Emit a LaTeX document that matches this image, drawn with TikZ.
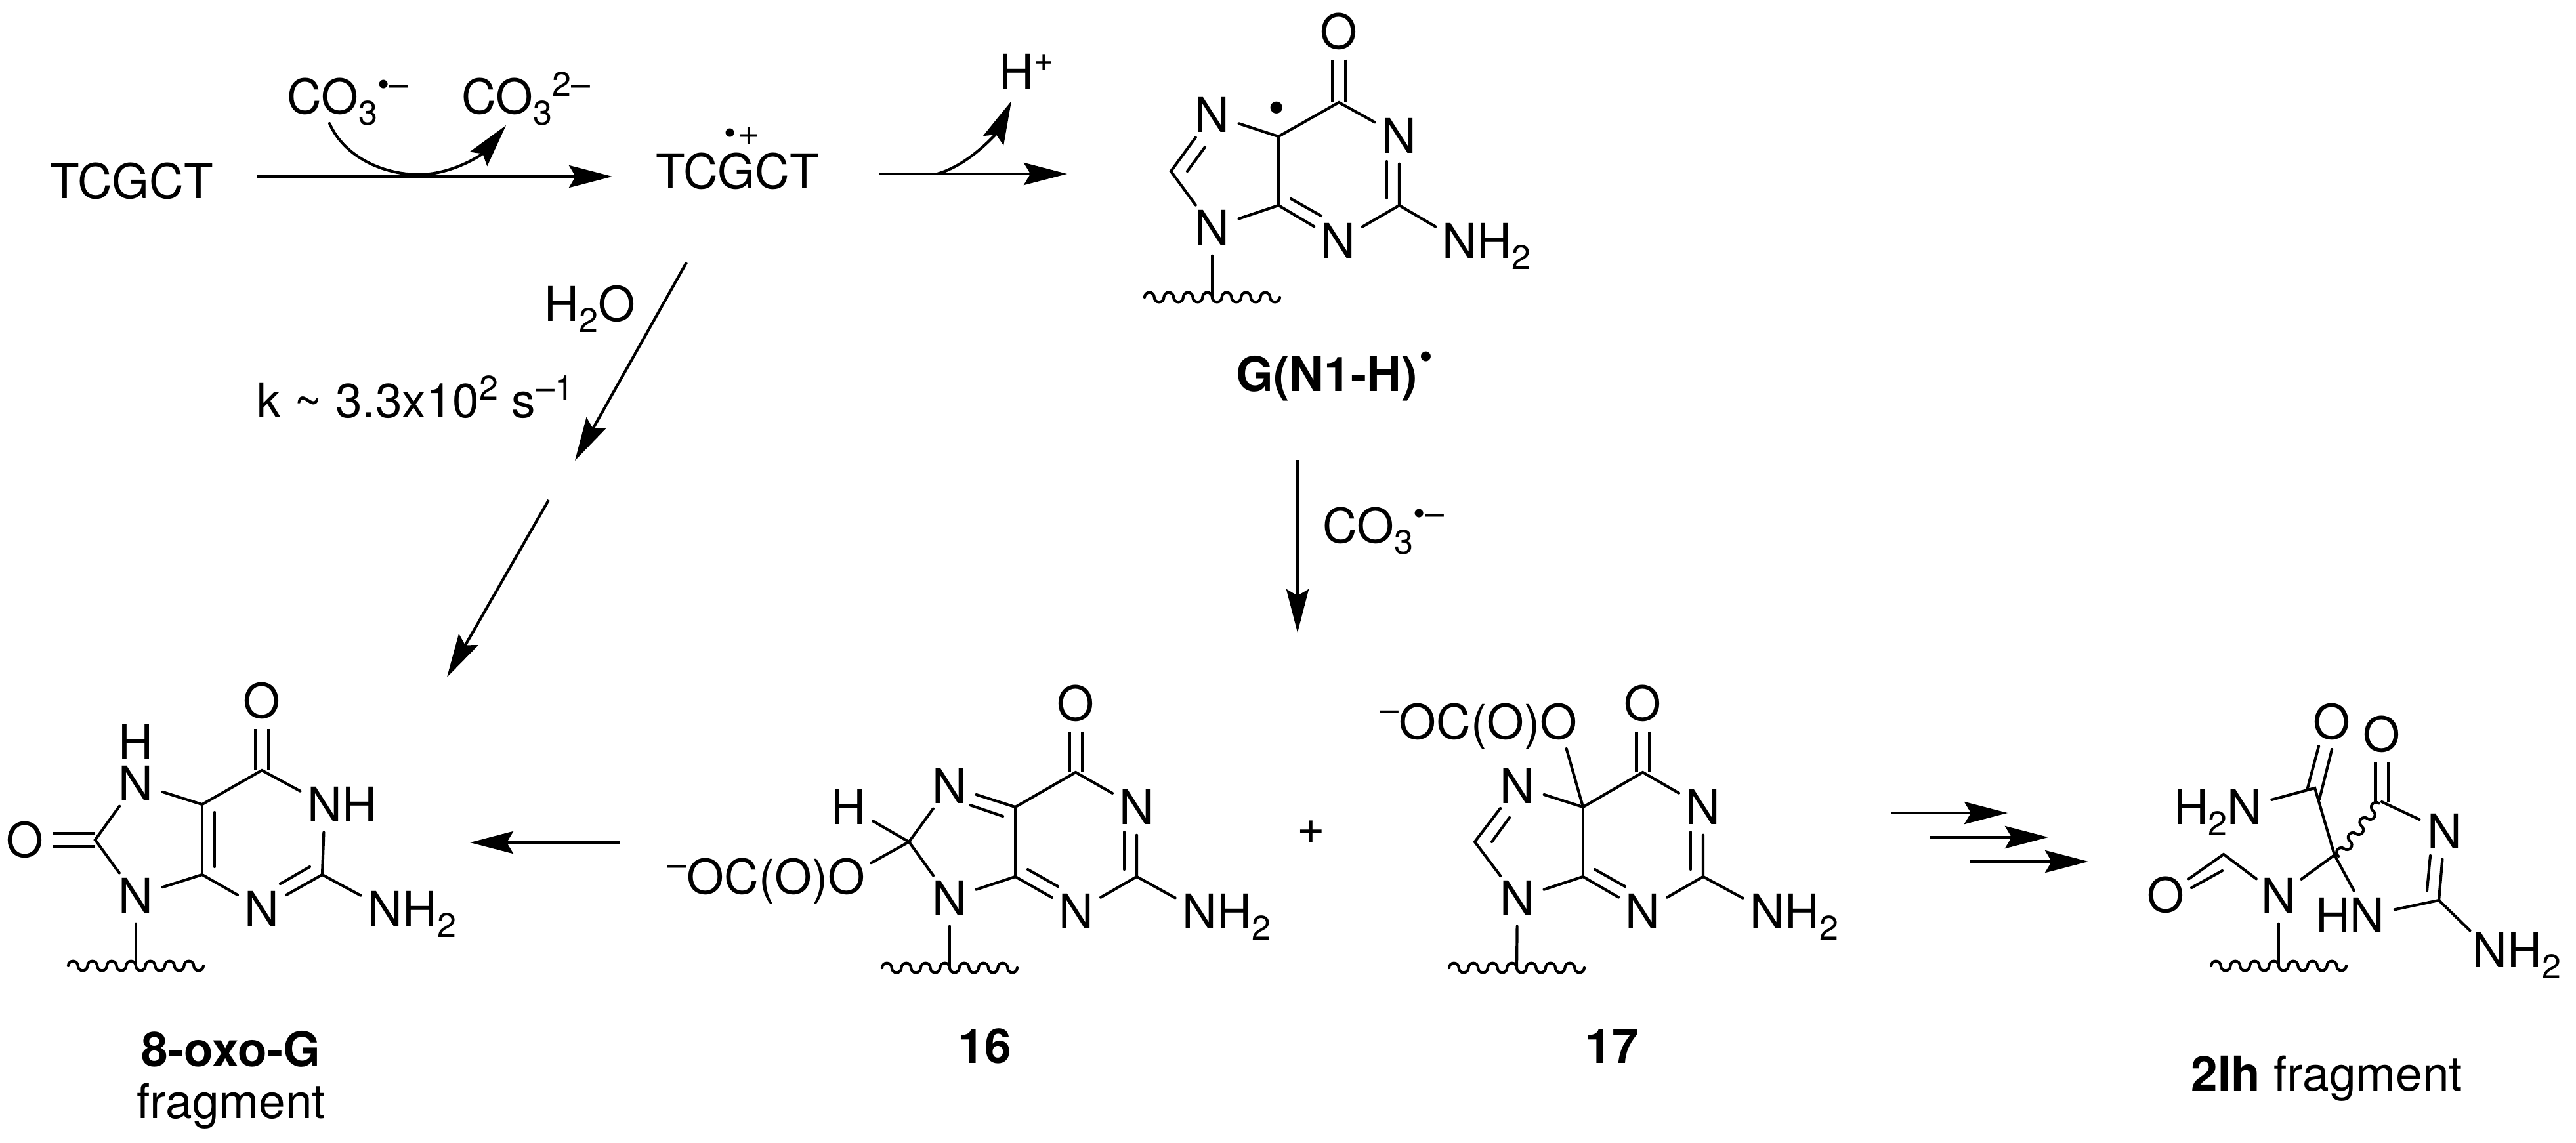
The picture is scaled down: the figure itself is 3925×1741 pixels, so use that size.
\documentclass[tikz,border=0pt]{standalone}
\usepackage{fontspec}
\setmainfont{TeX Gyre Heros}
\usetikzlibrary{arrows.meta,calc}
\newcommand\subt[1]{\raisebox{-.233em}{\fontsize{14.8}{16}\selectfont #1}}
\newcommand\supt[1]{\raisebox{.37em}{\fontsize{14.8}{16}\selectfont #1}}
\newcommand\innerb[3]{\coordinate (#1a) at (#2);\coordinate (#1b) at (#3);\draw[bond] (#1a) -- (#1b);}
\newcommand\tailw[1]{\draw[bond] ($(#1)+(-103,0)$) \foreach \wi in {1,...,7}{ arc[start angle=180,end angle=0,radius=.0735cm] arc[start angle=180,end angle=360,radius=.0735cm]};}
\tikzset{
  every node/.style={font=\fontsize{20.75}{24}\selectfont},
  lbl/.style={inner sep=0pt,anchor=base west},
  lblc/.style={inner sep=0pt,anchor=base},
  atom/.style={circle,minimum size=.84cm,inner sep=0pt},
  bond/.style={line width=.042cm,line cap=round},
  dbl/.style={line width=.042cm,line cap=butt,double,double distance=.15cm},
  arr/.style={line width=.042cm,line cap=butt,-{Stealth[length=.66cm,width=.34cm,inset=.1cm]}},
}
\begin{document}
\begin{tikzpicture}[x=.01cm,y=-.01cm]
\path[use as bounding box,fill=white] (0,0) rectangle (3925,1741);

% top row text
\node[lbl] (tcgct) at (76,302) {TCGCT};
\node[lbl] (cothree) at (437,173) {CO\subt{3}\supt{•}\supt{–}};
\node[lbl] (cothreeb) at (703,173) {CO\subt{3}\supt{2–}};
\node[lbl] (tcgctr) at (999,287) {TCGCT};
\node[inner sep=0pt,font=\fontsize{14.8}{16}\selectfont] (rdot) at (1113,208) {•};
\node[inner sep=0pt,font=\fontsize{16.5}{18}\selectfont] (rplus) at (1141,208) {+};
\node[lbl] (hplus) at (1522,135) {H\supt{+}};
\node[lbl] (water) at (829,489) {H\subt{2}O};
\node[lbl] (rate) at (391,636) {k \textasciitilde{} 3.3x10\supt{2} s\supt{–1}};
\node[lbl] (cothreec) at (2015,827) {CO\subt{3}\supt{•}\supt{–}};
\node[lbl] (plusm) at (1976,1285) {+};

% arrows
\coordinate (a1s) at (391,269); \coordinate (a1e) at (933,269);
\draw[arr] (a1s) -- (a1e);
\coordinate (c1s) at (502,188); \coordinate (c1m) at (638,266); \coordinate (c1e) at (771,191);
\draw[bond] (c1s) .. controls (525,240) and (585,266) .. (c1m);
\draw[arr] (c1m) .. controls (690,266) and (735,235) .. (c1e);
\coordinate (a2s) at (1340,265); \coordinate (a2e) at (1626,265);
\draw[arr] (a2s) -- (a2e);
\coordinate (c2s) at (1428,265); \coordinate (c2e) at (1541,154);
\draw[arr] (c2s) .. controls (1480,250) and (1520,200) .. (c2e);
\coordinate (a3s) at (1046,400); \coordinate (a3e) at (876,702);
\draw[arr] (a3s) -- (a3e);
\coordinate (a4s) at (836,762); \coordinate (a4e) at (681,1032);
\draw[arr] (a4s) -- (a4e);
\coordinate (a5s) at (1977,701); \coordinate (a5e) at (1977,964);
\draw[arr] (a5s) -- (a5e);
\coordinate (a6s) at (944,1284); \coordinate (a6e) at (716,1284);
\draw[arr] (a6s) -- (a6e);
\coordinate (a7s) at (2881,1239); \coordinate (a7e) at (3059,1239);
\draw[arr] (a7s) -- (a7e);
\coordinate (a8s) at (2941,1276); \coordinate (a8e) at (3121,1276);
\draw[arr] (a8s) -- (a8e);
\coordinate (a9s) at (3002,1313); \coordinate (a9e) at (3182,1313);
\draw[arr] (a9s) -- (a9e);

% G(N1-H) radical
\node[atom] (gO) at (2040,48) {O};
\node[atom] (gN7) at (1847,175) {N};
\node[atom] (gN1) at (2132,207) {N};
\node[atom] (gN3) at (2039,367) {N};
\node[atom] (gN9) at (1847,347) {N};
\node[atom] (gNH) at (2224,367) {N\smash{\rlap{H\subt{2}}}};
\node[inner sep=0pt] (gdot) at (1945,172) {•};
\coordinate (gC6) at (2040,156); \coordinate (gC5) at (1948,208);
\coordinate (gC2) at (2132,313); \coordinate (gC4) at (1948,313);
\coordinate (gC8) at (1784,261); \coordinate (gT) at (1847,453);
\draw[dbl] (gO) -- (gC6);
\draw[bond] (gN7) -- (gC5) -- (gC6) -- (gN1);
\draw[bond] (gN1) -- (gC2) -- (gNH);
\draw[bond] (gC2) -- (gN3);
\draw[bond] (gN3) -- (gC4) -- (gN9);
\draw[bond] (gC5) -- (gC4);
\draw[bond] (gN9) -- (gC8) -- (gN7);
\draw[bond] (gN9) -- (gT);
\tailw{gT}
\innerb{gi1}{2113,246}{2113,302}
\innerb{gi2}{1967,303}{2013,329}
\innerb{gi3}{1809,261}{1836,224}
\node[lbl] (glabel) at (1883,596) {\bfseries G(N1-H)\hspace{.05em}\raisebox{.47em}{\fontsize{17}{18}\selectfont •}};

% 8-oxo-G
\node[atom] (xO) at (399,1068) {O};
\node[atom] (xN7) at (207,1194) {\smash{\rlap{\raisebox{.863em}{H}}}N};
\node[atom] (xN1) at (495,1226) {N\smash{\rlap{H}}};
\node[atom] (xN3) at (399,1385) {N};
\node[atom] (xNH) at (587,1385) {N\smash{\rlap{H\subt{2}}}};
\node[atom] (xN9) at (207,1365) {N};
\node[atom] (xOb) at (38,1280) {O};
\coordinate (xC6) at (399,1174); \coordinate (xC5) at (308,1226);
\coordinate (xC2) at (491,1333); \coordinate (xC4) at (308,1333);
\coordinate (xC8) at (145,1280); \coordinate (xT) at (207,1472);
\draw[dbl] (xO) -- (xC6);
\draw[dbl] (xOb) -- (xC8);
\draw[bond] (xN7) -- (xC5) -- (xC6) -- (xN1);
\draw[bond] (xN1) -- (xC2) -- (xNH);
\draw[bond] (xC2) -- (xN3);
\draw[bond] (xN3) -- (xC4) -- (xN9);
\draw[bond] (xC5) -- (xC4);
\draw[bond] (xN9) -- (xC8) -- (xN7);
\draw[bond] (xN9) -- (xT);
\tailw{xT}
\innerb{xi1}{472,1321}{427,1347}
\innerb{xi2}{327,1238}{327,1321}
\node[lblc] (xlabel) at (352,1625) {\bfseries 8-oxo-G};
\node[lblc] (xlabelb) at (352,1704) {fragment};

% 16
\node[atom] (aO) at (1639,1072) {O};
\node[atom] (aN7) at (1447,1198) {N};
\node[atom] (aH) at (1293,1230) {H};
\node[atom] (aN1) at (1732,1230) {N};
\node[atom] (aN3) at (1640,1389) {N};
\node[atom] (aNH) at (1828,1389) {N\smash{\rlap{H\subt{2}}}};
\node[atom] (aN9) at (1447,1369) {N};
\node[atom] (aOb) at (1290,1336) {\smash{\llap{\supt{–}OC(O)}}O};
\coordinate (aC6) at (1639,1177); \coordinate (aC5) at (1547,1230);
\coordinate (aC2) at (1732,1336); \coordinate (aC4) at (1547,1336);
\coordinate (aC8) at (1385,1283); \coordinate (aT) at (1447,1475);
\draw[dbl] (aO) -- (aC6);
\draw[bond] (aH) -- (aC8) -- (aOb);
\draw[bond] (aN7) -- (aC8) -- (aN9);
\draw[bond] (aN7) -- (aC5) -- (aC6) -- (aN1);
\draw[bond] (aN1) -- (aC2) -- (aNH);
\draw[bond] (aC2) -- (aN3);
\draw[bond] (aN3) -- (aC4) -- (aN9);
\draw[bond] (aC5) -- (aC4);
\draw[bond] (aN9) -- (aT);
\tailw{aT}
\innerb{ai1}{1478,1227}{1528,1244}
\innerb{ai2}{1713,1268}{1713,1325}
\innerb{ai3}{1612,1351}{1566,1325}
\node[lblc] (alabel) at (1500,1620) {\bfseries 16};

% 17
\node[atom] (bO) at (2503,1072) {O};
\node[atom] (bOb) at (2375,1100) {\smash{\llap{\supt{–}OC(O)}}O};
\node[atom] (bN7) at (2312,1198) {N};
\node[atom] (bN1) at (2595,1230) {N};
\node[atom] (bN3) at (2503,1389) {N};
\node[atom] (bNH) at (2693,1389) {N\smash{\rlap{H\subt{2}}}};
\node[atom] (bN9) at (2312,1369) {N};
\coordinate (bC6) at (2503,1177); \coordinate (bC5) at (2412,1230);
\coordinate (bC2) at (2595,1336); \coordinate (bC4) at (2412,1336);
\coordinate (bC8) at (2247,1283); \coordinate (bT) at (2311,1475);
\draw[dbl] (bO) -- (bC6);
\draw[bond] (bOb) -- (bC5);
\draw[bond] (bN7) -- (bC5) -- (bC6) -- (bN1);
\draw[bond] (bN1) -- (bC2) -- (bNH);
\draw[bond] (bC2) -- (bN3);
\draw[bond] (bN3) -- (bC4) -- (bN9);
\draw[bond] (bC5) -- (bC4);
\draw[bond] (bN9) -- (bC8) -- (bN7);
\draw[bond] (bN9) -- (bT);
\tailw{bT}
\innerb{bi1}{2576,1268}{2576,1325}
\innerb{bi2}{2476,1351}{2430,1325}
\innerb{bi3}{2273,1283}{2300,1246}
\node[lblc] (blabel) at (2456,1620) {\bfseries 17};

% 2Ih
\node[atom] (hOa) at (3553,1100) {O};
\node[atom] (hOb) at (3629,1119) {O};
\node[atom] (hN2) at (3420,1230) {\smash{\llap{H\subt{2}}}N};
\node[atom] (hN) at (3725,1267) {N};
\node[atom] (hHN) at (3607,1395) {\smash{\llap{H}}N};
\node[atom] (hNH) at (3794,1448) {N\smash{\rlap{H\subt{2}}}};
\node[atom] (hNf) at (3472,1365) {N};
\node[atom] (hOf) at (3300,1364) {O};
\coordinate (hCa) at (3527,1201); \coordinate (hS) at (3557,1303);
\coordinate (hC4) at (3629,1222); \coordinate (hC2) at (3716,1372);
\coordinate (hCf) at (3388,1302); \coordinate (hT) at (3472,1472);
\coordinate (hWs) at (3563,1305);
\draw[dbl] (hOb) -- (hC4);
\innerb{hi1}{3533,1137}{3516,1201}
\innerb{hi2}{3553,1142}{3534,1218}
\draw[bond] (hN2) -- (hCa) -- (hS) -- (hHN);
\draw[bond] (hNf) -- (hS);
\draw[bond,shift={(hWs)},rotate=52.6] (0,0) \foreach \wi in {1,2,3}{ arc[start angle=180,end angle=0,radius=.0725cm] arc[start angle=180,end angle=360,radius=.0725cm]} arc[start angle=180,end angle=0,radius=.0725cm];
\draw[bond] (hC4) -- (hN);
\draw[bond] (hN) -- (hC2) -- (hNH);
\draw[bond] (hC2) -- (hHN);
\innerb{hi3}{3703,1304}{3698,1357}
\draw[bond] (hNf) -- (hCf) -- (hOf);
\innerb{hi4}{3339,1353}{3386,1327}
\draw[bond] (hNf) -- (hT);
\tailw{hT}
\node[lbl] (hlabel) at (3338,1662) {\textbf{2Ih} fragment};
\end{tikzpicture}
\end{document}
